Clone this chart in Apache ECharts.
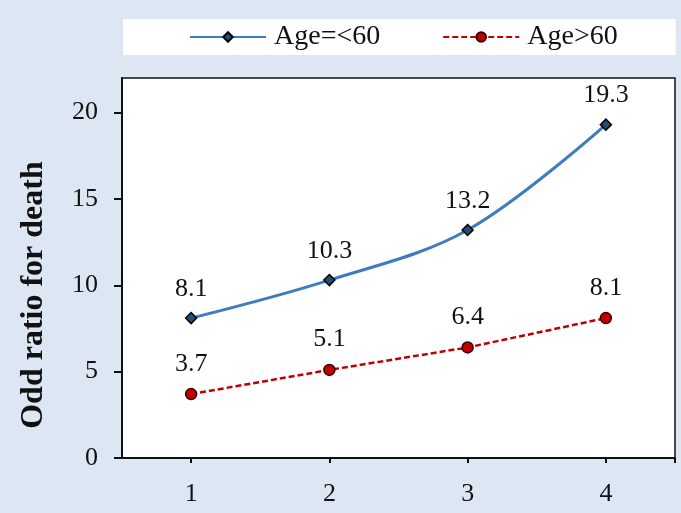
<!DOCTYPE html>
<html>
<head>
<meta charset="utf-8">
<script src="https://cdn.jsdelivr.net/npm/echarts@6/dist/echarts.min.js"></script>
<style>
html,body{margin:0;padding:0;background:#dce7f3;}
#c{width:681px;height:513px;}
</style>
</head>
<body>
<div id="c"></div>
<script>
var categories = [1, 2, 3, 4];
var youngValues = [8.1, 10.3, 13.2, 19.3];
var oldValues = [3.7, 5.1, 6.4, 8.1];
var yTicks = [0, 5, 10, 15, 20];
var seriesNames = ['Age=<60', 'Age>60'];
var yAxisTitle = 'Odd ratio for death';

function pairs(vals){ return categories.map(function(c,i){ return [c, vals[i]]; }); }

var chart = echarts.init(document.getElementById('c'), null, {renderer:'canvas'});
var font = 'Liberation Serif';
chart.setOption({
  backgroundColor: '#dce7f3',
  animation: false,
  legend: {
    left: 123, top: 19,
    padding: [4, 58, 4, 66],
    backgroundColor: '#ffffff',
    itemGap: 62,
    itemWidth: 76,
    itemHeight: 12,
    textStyle: {fontFamily: font, fontSize: 28, color: '#111', padding: [0,0,0,3]},
    data: seriesNames
  },
  grid: {
    left: 122, right: 6, top: 78, bottom: 55,
    show: true, backgroundColor: '#ffffff', borderColor: '#111', borderWidth: 1.5
  },
  xAxis: {
    type: 'value', min: 0.5, max: 4.5,
    splitLine: {show: false},
    axisLine: {show: true, lineStyle: {color: '#111', width: 2}},
    axisTick: {show: true, length: 5, lineStyle: {color: '#111', width: 2}, customValues: categories.concat([4.5])},
    axisLabel: {fontFamily: font, fontSize: 26, color: '#111', margin: 23, customValues: categories}
  },
  yAxis: {
    type: 'value', min: 0, max: 22,
    name: yAxisTitle, nameLocation: 'middle', nameGap: 72, nameRotate: 90,
    nameTextStyle: {fontFamily: font, fontWeight: 'bold', fontSize: 32, color: '#111', padding: [0, 54, 0, 0]},
    splitLine: {show: false},
    axisLine: {show: true, lineStyle: {color: '#111', width: 2}},
    axisTick: {show: true, length: 8, lineStyle: {color: '#111', width: 2}, customValues: yTicks},
    axisLabel: {fontFamily: font, fontSize: 26, color: '#111', margin: 24, customValues: yTicks}
  },
  series: [
    {
      name: seriesNames[0], type: 'line', smooth: 0.35,
      data: pairs(youngValues),
      symbol: 'diamond', symbolSize: 11,
      lineStyle: {color: '#3d7dbf', width: 3},
      itemStyle: {color: '#1f4e79', borderColor: '#000', borderWidth: 1.5},
      label: {show: true, position: 'top', distance: 10, fontFamily: font, fontSize: 26, color: '#111',
              formatter: function(p){ return p.value[1].toFixed(1); }}
    },
    {
      name: seriesNames[1], type: 'line',
      data: pairs(oldValues),
      symbol: 'circle', symbolSize: 11,
      lineStyle: {color: '#c00000', width: 2.5, type: [6, 3]},
      itemStyle: {color: '#c00000', borderColor: '#3a0000', borderWidth: 1.5},
      label: {show: true, position: 'top', distance: 11, fontFamily: font, fontSize: 26, color: '#111',
              formatter: function(p){ return p.value[1].toFixed(1); }}
    }
  ]
});
</script>
</body>
</html>
